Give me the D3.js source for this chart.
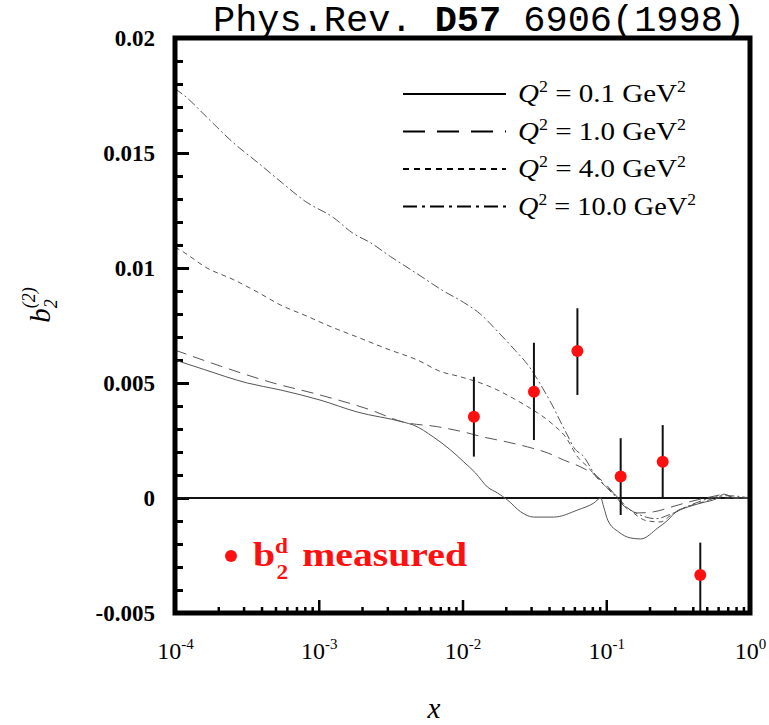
<!DOCTYPE html>
<html lang="en">
<head>
<meta charset="UTF-8">
<title>b2 deuteron</title>
<script src="https://cdn.jsdelivr.net/npm/d3@7"></script>
<style>
    body { margin: 0; background: #fff; }
</style>
</head>
<body>
<script type="text/javascript">
    // Q^2 labels of the four curves
    var q2Labels = ['0.1', '1.0', '4.0', '10.0'];

    // curves, [x, b2]
    var curveQ01 = [[1e-4,0.0060],[1.57e-4,0.0056],[3.18e-4,0.0050],[5.39e-4,0.0047],[1.02e-3,0.00426],
        [1.85e-3,0.00374],[3.88e-3,0.0033],[4.56e-3,0.00317],[6.28e-3,0.00265],[8.25e-3,0.00209],
        [1.02e-2,0.00157],[1.23e-2,0.00109],[1.49e-2,0.00048],[1.75e-2,0.00022],[2.06e-2,-0.00009],
        [2.54e-2,-0.0006],[3.13e-2,-0.00083],[4.31e-2,-0.00083],[6.33e-2,-0.00052],[8.19e-2,-0.00022],
        [9.16e-2,0.0],[0.0961,-0.0004],[0.1024,-0.00096],[0.1222,-0.00148],[0.1483,-0.00174],[0.1739,-0.00178],
        [0.2286,-0.0013],[0.2684,-0.00096],[0.3048,-0.0006],[0.370,-0.00039],[0.456,-0.00022],[0.598,0.0],
        [0.659,0.00017],[0.774,0.0],[1.0,0.0]];
    var curveQ1 = [[1e-4,0.00643],[2.06e-4,0.00574],[4.59e-4,0.00504],[1.02e-3,0.00448],[2.29e-3,0.00383],
        [3.88e-3,0.0033],[6.70e-3,0.0031],[1.02e-2,0.00287],[1.40e-2,0.00265],[2.06e-2,0.00243],
        [2.84e-2,0.00222],[3.91e-2,0.00196],[5.06e-2,0.00165],[6.64e-2,0.00135],[8.73e-2,0.00091],
        [0.1128,0.0002],[0.126,-0.0002],[0.166,-0.00065],[0.214,-0.0006],[0.281,-0.0004],[0.388,-0.00015],
        [0.535,0.00005],[0.659,0.00015],[0.799,0.0],[1.0,0.0]];
    var curveQ4 = [[1e-4,0.0109],[1.14e-4,0.0107],[1.67e-4,0.0100],[2.54e-4,0.0095],[3.73e-4,0.00896],
        [5.39e-4,0.0084],[8.32e-4,0.0079],[1.16e-3,0.0075],[1.85e-3,0.0070],[3.15e-3,0.00643],
        [4.86e-3,0.0060],[7.03e-3,0.0055],[9.68e-3,0.00527],[1.57e-2,0.00483],[2.23e-2,0.00435],
        [2.84e-2,0.00397],[3.33e-2,0.0037],[4.31e-2,0.00317],[5.22e-2,0.00265],[6.33e-2,0.00178],
        [7.43e-2,0.00135],[9.16e-2,0.0007],[0.113,0.0002],[0.141,-0.00043],[0.195,-0.001],[0.24,-0.00104],
        [0.281,-0.00075],[0.358,-0.0004],[0.456,-0.0002],[0.598,0.0],[0.774,0.0],[1.0,0.0]];
    var curveQ10 = [[1e-4,0.0178],[1.17e-4,0.01748],[1.70e-4,0.0165],[2.49e-4,0.0155],[3.91e-4,0.0145],
        [5.57e-4,0.0137],[8.05e-4,0.0129],[1.26e-3,0.0122],[1.74e-3,0.0115],[2.29e-3,0.0111],
        [3.15e-3,0.0105],[4.70e-3,0.0098],[7.38e-3,0.0090],[1.02e-2,0.0085],[1.33e-2,0.0080],
        [1.78e-2,0.0072],[2.34e-2,0.0064],[2.84e-2,0.0058],[3.67e-2,0.0047],[4.24e-2,0.0040],
        [4.82e-2,0.0033],[5.40e-2,0.0027],[5.94e-2,0.0022],[6.97e-2,0.0018],[8.19e-2,0.0011],
        [9.61e-2,0.0006],[0.113,0.00013],[0.132,-0.0003],[0.174,-0.00075],[0.221,-0.0009],[0.281,-0.0007],
        [0.388,-0.0003],[0.535,0.0],[0.7,0.0001],[1.0,0.0]];
    var curves = [curveQ01, curveQ1, curveQ4, curveQ10];
    var dashes = ['none', '12,7', '5,4', '9,3,2,3'];

    // measured b2^d
    var dataX = [0.0120, 0.0314, 0.0630, 0.126, 0.247, 0.451];
    var dataY = [0.00353, 0.00462, 0.00639, 0.00093, 0.00158, -0.00335];
    var errHigh = [0.00527, 0.00675, 0.00825, 0.00260, 0.00317, -0.00194];
    var errLow = [0.00180, 0.00252, 0.00448, -0.00074, 0.0, -0.0060];

    var yTickValues = [-0.005, 0, 0.005, 0.01, 0.015, 0.02];
    var yTickLabels = ['-0.005', '0', '0.005', '0.01', '0.015', '0.02'];
    var xTickValues = [1e-4, 1e-3, 1e-2, 1e-1, 1];
    var xTickExp = ['-4', '-3', '-2', '-1', '0'];

    var SERIF = '"Liberation Serif", "Times New Roman", serif';
    var W = 769, H = 725;
    var svg = d3.select('body').append('svg')
            .attr('width', W)
            .attr('height', H)
            .style('font-family', SERIF);

    var x = d3.scaleLog().domain([1e-4, 1]).range([175, 750]);
    var y = d3.scaleLinear().domain([-0.005, 0.02]).range([613, 38]);

    svg.append('clipPath').attr('id', 'plot')
            .append('rect')
            .attr('x', x.range()[0]).attr('y', y.range()[1])
            .attr('width', x.range()[1] - x.range()[0])
            .attr('height', y.range()[0] - y.range()[1]);

    // minor y ticks
    var yMinor = svg.append('g')
            .attr('transform', 'translate(' + x.range()[0] + ',0)')
            .call(d3.axisLeft(y).ticks(25).tickSize(-8).tickFormat(''));
    yMinor.select('.domain').remove();
    yMinor.selectAll('line').attr('stroke-width', 3);

    // major y ticks
    var yAxis = svg.append('g')
            .attr('transform', 'translate(' + x.range()[0] + ',0)')
            .call(d3.axisLeft(y).tickValues(yTickValues).tickSize(-14).tickPadding(20)
                    .tickFormat(function (d, i) { return yTickLabels[i]; }));
    yAxis.attr('font-family', null).attr('font-size', null);
    yAxis.select('.domain').remove();
    yAxis.selectAll('line').attr('stroke-width', 3);
    yAxis.selectAll('text')
            .style('font-family', SERIF)
            .style('font-size', '23px')
            .style('font-weight', 'bold')
            .attr('fill', '#000');

    // minor x ticks
    var xMinorVals = [];
    xTickValues.slice(0, 4).forEach(function (d) {
        for (var k = 2; k < 10; k++) xMinorVals.push(d * k);
    });
    var xMinor = svg.append('g')
            .attr('transform', 'translate(0,' + y.range()[0] + ')')
            .call(d3.axisBottom(x).tickValues(xMinorVals).tickSize(-6).tickFormat(''));
    xMinor.select('.domain').remove();
    xMinor.selectAll('line').attr('stroke-width', 2.5);

    var xAxis = svg.append('g')
            .attr('transform', 'translate(0,' + y.range()[0] + ')')
            .call(d3.axisBottom(x).tickValues(xTickValues).tickSize(-13).tickFormat(''));
    xAxis.attr('font-family', null).attr('font-size', null);
    xAxis.select('.domain').remove();
    xAxis.selectAll('line').attr('stroke-width', 2.5);
    xAxis.selectAll('.tick').append('text')
            .attr('y', 46)
            .attr('fill', '#000')
            .style('font-family', SERIF)
            .style('font-size', '24px')
            .attr('text-anchor', 'middle')
            .each(function (d, i) {
                var t = d3.select(this);
                t.append('tspan').text('10');
                t.append('tspan').attr('dy', -10).style('font-size', '15px').text(xTickExp[i]);
            });

    // zero line
    svg.append('line')
            .attr('x1', x.range()[0]).attr('x2', x.range()[1])
            .attr('y1', y(0)).attr('y2', y(0))
            .attr('stroke', '#111').attr('stroke-width', 2);

    // curves
    var line = d3.line()
            .x(function (d) { return x(d[0]); })
            .y(function (d) { return y(d[1]); })
            .curve(d3.curveMonotoneX);
    svg.append('g').attr('clip-path', 'url(#plot)')
            .selectAll('path')
            .data(curves)
            .enter()
            .append('path')
            .attr('d', line)
            .attr('fill', 'none')
            .attr('stroke', '#555')
            .attr('stroke-width', 1)
            .attr('stroke-dasharray', function (d, i) { return dashes[i]; });

    // error bars + points
    var pts = svg.append('g').attr('clip-path', 'url(#plot)');
    pts.selectAll('line')
            .data(dataX)
            .enter()
            .append('line')
            .attr('x1', function (d) { return x(d); })
            .attr('x2', function (d) { return x(d); })
            .attr('y1', function (d, i) { return y(errHigh[i]); })
            .attr('y2', function (d, i) { return y(errLow[i]); })
            .attr('stroke', '#111')
            .attr('stroke-width', 2);
    pts.selectAll('circle')
            .data(dataX)
            .enter()
            .append('circle')
            .attr('cx', function (d) { return x(d); })
            .attr('cy', function (d, i) { return y(dataY[i]); })
            .attr('r', 6)
            .attr('fill', '#ff1010');

    // legend
    var leg = svg.append('g');
    q2Labels.forEach(function (q, i) {
        var ly = 94 + i * 37.5;
        leg.append('line')
                .attr('x1', 403).attr('x2', 506)
                .attr('y1', ly).attr('y2', ly)
                .attr('stroke', '#000').attr('stroke-width', 2)
                .attr('stroke-dasharray', dashes[i] === 'none' ? null :
                        (i === 1 ? '22,12' : (i === 2 ? '6,5' : '14,5,3,5')));
        var t = leg.append('text')
                .attr('x', 518).attr('y', ly + 8)
                .attr('textLength', i === 3 ? 178 : 168)
                .attr('lengthAdjust', 'spacingAndGlyphs')
                .style('font-size', '26px');
        t.append('tspan').style('font-style', 'italic').text('Q');
        t.append('tspan').attr('dy', -10).style('font-size', '16px').text('2');
        t.append('tspan').attr('dy', 10).text(' = ' + q + ' GeV');
        t.append('tspan').attr('dy', -10).style('font-size', '16px').text('2');
    });

    // measured legend
    svg.append('circle')
            .attr('cx', 231).attr('cy', 556).attr('r', 6)
            .attr('fill', '#ff1010');
    var mt = svg.append('text')
            .attr('x', 253).attr('y', 566)
            .attr('fill', '#ff1010')
            .attr('textLength', 214)
            .attr('lengthAdjust', 'spacingAndGlyphs')
            .style('font-weight', 'bold')
            .style('font-size', '34px');
    mt.append('tspan').text('b');
    mt.append('tspan').attr('dy', -13).style('font-size', '20px').text('d');
    mt.append('tspan').attr('dx', -10).attr('dy', 26).style('font-size', '20px').text('2');
    mt.append('tspan').attr('dy', -13).attr('dx', 12).text('measured');

    // frame
    svg.append('rect')
            .attr('x', x.range()[0]).attr('y', y.range()[1])
            .attr('width', x.range()[1] - x.range()[0])
            .attr('height', y.range()[0] - y.range()[1])
            .attr('fill', 'none')
            .attr('stroke', '#000')
            .attr('stroke-width', 5);

    // axis titles
    var yl = svg.append('text')
            .attr('transform', 'translate(50,305) rotate(-90)')
            .attr('text-anchor', 'middle')
            .style('font-size', '29px')
            .style('font-style', 'italic');
    yl.append('tspan').text('b');
    yl.append('tspan').attr('dy', 7).style('font-size', '18px').text('2');
    yl.append('tspan').attr('dx', -9).attr('dy', -22).style('font-size', '18px').text('(2)');

    svg.append('text')
            .attr('x', 434).attr('y', 718)
            .attr('text-anchor', 'middle')
            .style('font-size', '29px')
            .style('font-style', 'italic')
            .text('x');

    // reference title
    var tt = svg.append('text')
            .attr('x', 213).attr('y', 31)
            .attr('textLength', 532)
            .attr('lengthAdjust', 'spacingAndGlyphs')
            .style('font-family', '"Liberation Mono", "DejaVu Sans Mono", monospace')
            .style('font-size', '36px');
    tt.append('tspan').text('Phys.Rev. ');
    tt.append('tspan').style('font-weight', 'bold').text('D57');
    tt.append('tspan').text(' 6906(1998)');
</script>
</body>
</html>
